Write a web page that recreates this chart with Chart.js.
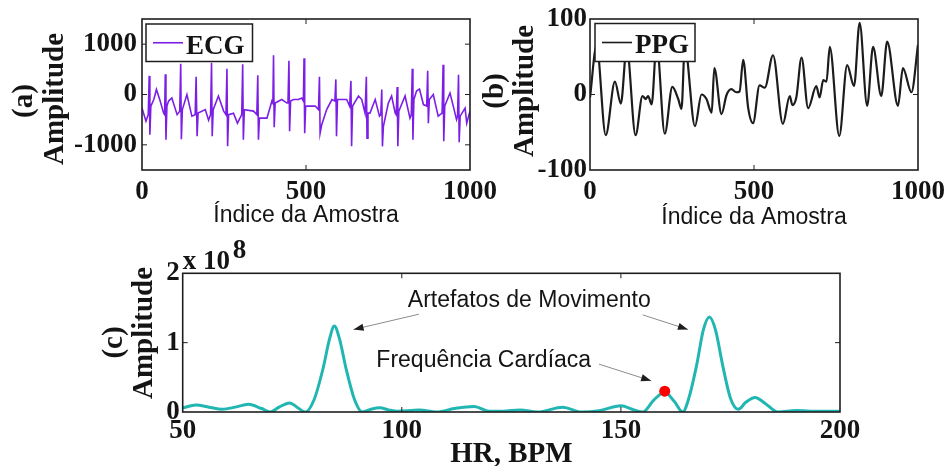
<!DOCTYPE html>
<html>
<head>
<meta charset="utf-8">
<script src="https://cdn.jsdelivr.net/npm/chart.js@4.4.1/dist/chart.umd.min.js"></script>
<style>
  html, body { margin: 0; padding: 0; background: #ffffff; }
  #wrap { position: relative; width: 949px; height: 466px; overflow: hidden; background: #ffffff; }
  #wrap canvas { position: absolute; left: 0; top: 0; }
</style>
</head>
<body>
<div id="wrap">
  <canvas id="ecgChart" width="949" height="466" style="width:949px;height:466px"></canvas>
  <canvas id="ppgChart" width="949" height="466" style="width:949px;height:466px"></canvas>
  <canvas id="specChart" width="949" height="466" style="width:949px;height:466px"></canvas>
</div>
<script>
// ---- (a) ECG: sample index and amplitude at each vertex of the trace ----
const ecgIndex = [0, 12, 19, 22, 24, 27, 36, 44, 54, 66, 69, 71, 73, 76, 81, 91, 107, 115, 118, 120,
  123, 137, 152, 162, 165, 168, 171, 193, 203, 209, 212, 214, 217, 233, 249, 256, 259, 261, 264, 279,
  291, 304, 307, 309, 312, 340, 350, 353, 355, 358, 381, 396, 399, 401, 403, 406, 426, 442, 445, 448,
  450, 453, 462, 477, 487, 492, 494, 496, 499, 528, 538, 541, 543, 548, 563, 579, 588, 591, 593, 596,
  624, 633, 637, 639, 642, 660, 670, 680, 684, 686, 689, 695, 711, 724, 728, 731, 733, 736, 751, 761,
  772, 775, 778, 780, 783, 802, 817, 821, 824, 826, 829, 837, 846, 858, 868, 871, 873, 876, 888, 903,
  915, 918, 920, 923, 939, 949, 959, 962, 965, 967, 970, 985, 990, 1000];
const ecgAmplitude = [-270, -530, -400, 370, -800, -230, -100, 100, -100, -370, -400, 400, -900, -230, -130, -70, -400, -330, 610, -890,
  -300, 0, -430, -400, 350, -830, -370, -300, -510, -400, 630, -830, -300, -30, -330, -400, 510, -1030, -400, -370,
  -570, -400, 600, -900, -300, -330, -400, 380, -900, -470, -470, -130, -170, 780, -650, -170, -100, -170, -170, 670,
  -730, -130, -100, -100, -70, -130, 720, -770, -230, -230, -300, 350, -770, -600, -300, -100, -130, 300, -830, -100,
  -100, -230, 270, -1030, -230, -30, -100, -370, 350, -870, -370, -370, -100, -430, -400, 100, -1030, -630, -170, -30,
  -370, -400, 150, -1030, -330, -30, -470, -400, 510, -900, -100, 70, 110, -200, -230, 470, -570, -100, 0, -430,
  -370, 590, -930, -230, 30, -230, -500, -430, 390, -950, -430, -270, -570, -330];

// ---- (b) PPG: sample index and amplitude at the turning points ----
const ppgIndex = [0, 20, 48, 76, 94, 112, 139, 160, 170, 177, 188, 203, 228, 251, 269, 279, 289, 320, 340, 355,
  371, 379, 401, 416, 431, 446, 456, 467, 482, 497, 517, 533, 558, 588, 609, 617, 629, 645, 665, 690,
  700, 711, 721, 731, 760, 784, 805, 822, 845, 863, 888, 906, 939, 954, 980, 1000];
const ppgAmplitude = [-4, 65, -54, 17, -12, 62, -54, -2, -6, -2, -13, 68, -52, 10, -6, -19, 64, -42, 0, -6,
  -24, 35, -26, -1, 7, 3, 4, 46, -17, -38, 12, 9, 52, -39, -2, -14, -4, 49, -18, 11,
  -4, 19, 17, 63, -55, 39, 11, 95, -15, 63, -2, 70, -15, 35, 3, 66];

// ---- (c) spectrum: heart rate (BPM) and amplitude in units of 1e8 ----
const hrBpm = [50, 53, 56, 59, 62, 65, 68, 70, 72, 74.4, 76.5, 78, 80, 82, 83.5, 84.6, 85.8, 87.3, 89.2, 91,
  93, 95, 97, 99, 102, 104, 108, 112, 116.5, 120, 123, 127, 131, 136.7, 141, 145, 150, 153, 155, 157.5,
  160, 162.2, 164.1, 165.5, 167.3, 168.8, 170.2, 171.6, 173.2, 175, 176.8, 178.5, 180.6, 183, 185.8, 190, 195, 200];
const spectrumE8 = [0.06, 0.10, 0.07, 0.04, 0.07, 0.11, 0.05, 0.0, 0.07, 0.13, 0.05, 0.0, 0.18, 0.62, 1.05, 1.24, 1.05, 0.62, 0.18, 0.0,
  0.04, 0.06, 0.03, 0.01, 0.02, 0.03, 0.0, 0.05, 0.08, 0.01, 0.01, 0.03, 0.0, 0.07, 0.0, 0.02, 0.09, 0.03, 0.0, 0.17,
  0.29, 0.15, 0.0, 0.2, 0.68, 1.18, 1.37, 1.18, 0.68, 0.2, 0.04, 0.14, 0.21, 0.12, 0.0, 0.02, 0.01, 0.01];
const heartRateBpm = [160];
const heartRateE8 = [0.30];

// ---- tick values ----
const sampleTicks = [0, 500, 1000];
const ecgTicks = [-1000, 0, 1000];
const ppgTicks = [-100, 0, 100];
const bpmTicks = [50, 100, 150, 200];
const ampTicks = [0, 1, 2];

const INK = '#141414';
const SERIF = '"Liberation Serif", "Times New Roman", serif';
const SANS = '"Liberation Sans", Arial, sans-serif';
const tickFont = { family: SERIF, weight: 'bold', size: 27, lineHeight: 1.2 };
const Y_AXIS_W = 100;

const pairs = (xs, ys) => xs.map((x, i) => ({ x, y: ys[i] }));

function axis(min, max, ticks, horizontal, size, pad) {
  return {
    type: 'linear', min, max, offset: false,
    grid: { display: false, drawTicks: false },
    border: { display: false },
    afterBuildTicks: s => { s.ticks = ticks.map(v => ({ value: v })); },
    afterFit: s => {
      if (horizontal) s.height = size; else s.width = size;
      s.paddingLeft = 0; s.paddingRight = 0; s.paddingTop = 0; s.paddingBottom = 0;
    },
    ticks: {
      autoSkip: false, maxRotation: 0, minRotation: 0, padding: pad,
      color: INK, font: tickFont, callback: v => String(v)
    }
  };
}

// box around the axes plus inward tick marks on all four sides
function drawFrame(chart, xTicks, yTicks) {
  const { ctx, chartArea: a, scales: { x, y } } = chart;
  ctx.save();
  ctx.strokeStyle = '#1e1e1e';
  ctx.lineWidth = 1;
  const L = 5;
  ctx.beginPath();
  xTicks.forEach(v => {
    const px = x.getPixelForValue(v);
    if (Math.abs(px - a.left) < 2 || Math.abs(px - a.right) < 2) return;
    ctx.moveTo(px, a.bottom); ctx.lineTo(px, a.bottom - L);
    ctx.moveTo(px, a.top); ctx.lineTo(px, a.top + L);
  });
  yTicks.forEach(v => {
    const py = y.getPixelForValue(v);
    if (Math.abs(py - a.top) < 2 || Math.abs(py - a.bottom) < 2) return;
    ctx.moveTo(a.left, py); ctx.lineTo(a.left + L, py);
    ctx.moveTo(a.right, py); ctx.lineTo(a.right - L, py);
  });
  ctx.stroke();
  ctx.lineWidth = 1.6;
  ctx.strokeRect(a.left, a.top, a.right - a.left, a.bottom - a.top);
  ctx.restore();
}

function drawLegend(chart, box, color, width, label) {
  const { ctx } = chart;
  ctx.save();
  ctx.fillStyle = '#ffffff';
  ctx.fillRect(box.x, box.y, box.w, box.h);
  ctx.strokeStyle = '#1e1e1e';
  ctx.lineWidth = 1.5;
  ctx.strokeRect(box.x, box.y, box.w, box.h);
  const my = box.y + box.h / 2;
  ctx.strokeStyle = color;
  ctx.lineWidth = width;
  ctx.beginPath();
  ctx.moveTo(box.x + 7, my); ctx.lineTo(box.x + 37, my);
  ctx.stroke();
  ctx.fillStyle = INK;
  ctx.font = 'bold 27px ' + SERIF;
  ctx.textAlign = 'left';
  ctx.textBaseline = 'alphabetic';
  ctx.fillText(label, box.x + 40, box.y + 29.5);
  ctx.restore();
}

function drawRotated(ctx, text, xBase, yCenter, font) {
  ctx.save();
  ctx.translate(xBase, yCenter);
  ctx.rotate(-Math.PI / 2);
  ctx.font = font;
  ctx.fillStyle = INK;
  ctx.textAlign = 'center';
  ctx.textBaseline = 'alphabetic';
  ctx.fillText(text, 0, 0);
  ctx.restore();
}

function drawText(ctx, text, x, y, font, align) {
  ctx.save();
  ctx.font = font;
  ctx.fillStyle = INK;
  ctx.textAlign = align || 'center';
  ctx.textBaseline = 'alphabetic';
  ctx.fillText(text, x, y);
  ctx.restore();
}

const TITLE_FONT = 'bold 29px ' + SERIF;
const LABEL_FONT = '23px ' + SANS;

const baseOptions = (padding, xAxis, yAxis) => ({
  responsive: false,
  animation: false,
  events: [],
  layout: { padding },
  plugins: { legend: { display: false }, tooltip: { enabled: false } },
  scales: { x: xAxis, y: yAxis }
});

// ---------------- (a) ECG ----------------
new Chart(document.getElementById('ecgChart'), {
  type: 'line',
  data: {
    datasets: [{
      label: 'ECG',
      data: pairs(ecgIndex, ecgAmplitude),
      borderColor: '#7b1fe6',
      borderWidth: 1.6,
      pointRadius: 0,
      tension: 0,
      fill: false
    }]
  },
  options: baseOptions(
    { left: 142 - Y_AXIS_W, top: 19, right: 479, bottom: 256 },
    axis(0, 1000, sampleTicks, true, 40, 6),
    axis(-1500, 1500, ecgTicks, false, Y_AXIS_W, 5)
  ),
  plugins: [{
    id: 'ecgDecor',
    afterDatasetsDraw(chart) {
      const a = chart.chartArea;
      drawFrame(chart, sampleTicks, ecgTicks);
      drawLegend(chart, { x: a.left + 4, y: a.top + 5, w: 106.5, h: 37.5 }, '#7b1fe6', 1.6, 'ECG');
      const ctx = chart.ctx;
      drawRotated(ctx, '(a)', 31.5, 101, TITLE_FONT);
      drawRotated(ctx, 'Amplitude', 62.5, 99, TITLE_FONT);
      drawText(ctx, 'Índice da Amostra', (a.left + a.right) / 2, 221.5, LABEL_FONT);
    }
  }]
});

// ---------------- (b) PPG ----------------
new Chart(document.getElementById('ppgChart'), {
  type: 'line',
  data: {
    datasets: [{
      label: 'PPG',
      data: pairs(ppgIndex, ppgAmplitude),
      borderColor: '#1c1c1c',
      borderWidth: 2.2,
      pointRadius: 0,
      cubicInterpolationMode: 'monotone',
      fill: false
    }]
  },
  options: baseOptions(
    { left: 590 - Y_AXIS_W, top: 19, right: 31, bottom: 256 },
    axis(0, 1000, sampleTicks, true, 40, 6),
    axis(-100, 100, ppgTicks, false, Y_AXIS_W, 3)
  ),
  plugins: [{
    id: 'ppgDecor',
    afterDatasetsDraw(chart) {
      const a = chart.chartArea;
      drawFrame(chart, sampleTicks, ppgTicks);
      drawLegend(chart, { x: a.left + 5, y: a.top + 4.5, w: 100, h: 38 }, '#1c1c1c', 1.6, 'PPG');
      const ctx = chart.ctx;
      drawRotated(ctx, '(b)', 503, 91, TITLE_FONT);
      drawRotated(ctx, 'Amplitude', 533, 91, TITLE_FONT);
      drawText(ctx, 'Índice da Amostra', (a.left + a.right) / 2, 224, LABEL_FONT);
    }
  }]
});

// ---------------- (c) spectrum ----------------
const notes = [
  { text: 'Artefatos de Movimento', bpm: 129.1, amp: 1.52 },
  { text: 'Frequência Cardíaca', bpm: 118.7, amp: 0.645 }
];
const arrows = [
  { from: [103.9, 1.41], to: [89.0, 1.19] },
  { from: [155.0, 1.40], to: [165.3, 1.19] },
  { from: [145.0, 0.69], to: [156.9, 0.45] }
];

function drawArrow(ctx, x1, y1, x2, y2) {
  ctx.save();
  ctx.strokeStyle = '#8c8c8c';
  ctx.lineWidth = 1;
  ctx.beginPath();
  ctx.moveTo(x1, y1); ctx.lineTo(x2, y2);
  ctx.stroke();
  const ang = Math.atan2(y2 - y1, x2 - x1);
  const len = 10, half = 3.6;
  const bx = x2 - len * Math.cos(ang), by = y2 - len * Math.sin(ang);
  ctx.fillStyle = '#1e1e1e';
  ctx.beginPath();
  ctx.moveTo(x2, y2);
  ctx.lineTo(bx + half * Math.sin(ang), by - half * Math.cos(ang));
  ctx.lineTo(bx - half * Math.sin(ang), by + half * Math.cos(ang));
  ctx.closePath();
  ctx.fill();
  ctx.restore();
}

new Chart(document.getElementById('specChart'), {
  type: 'line',
  data: {
    datasets: [{
      label: 'Frequência Cardíaca',
      data: pairs(heartRateBpm, heartRateE8),
      showLine: false,
      pointRadius: 5.5,
      pointBackgroundColor: '#ff0000',
      pointBorderWidth: 0,
      order: -1
    }, {
      label: 'Espectro',
      data: pairs(hrBpm, spectrumE8),
      borderColor: '#22b6b2',
      borderWidth: 3,
      pointRadius: 0,
      cubicInterpolationMode: 'monotone',
      fill: false,
      order: 0
    }]
  },
  options: baseOptions(
    { left: 182.7 - Y_AXIS_W, top: 273.3, right: 109, bottom: 14 },
    axis(50, 200, bpmTicks, true, 40, 3.3),
    axis(0, 2, ampTicks, false, Y_AXIS_W, 3)
  ),
  plugins: [{
    id: 'specDecor',
    afterDatasetsDraw(chart) {
      const { ctx, chartArea: a, scales: { x, y } } = chart;
      drawFrame(chart, bpmTicks, ampTicks);
      arrows.forEach(ar => drawArrow(ctx,
        x.getPixelForValue(ar.from[0]), y.getPixelForValue(ar.from[1]),
        x.getPixelForValue(ar.to[0]), y.getPixelForValue(ar.to[1])));
      notes.forEach(n => drawText(ctx, n.text, x.getPixelForValue(n.bpm), y.getPixelForValue(n.amp), LABEL_FONT));
      // axis exponent
      drawText(ctx, 'x 10', a.left, 269.3, 'bold 27px ' + SERIF, 'left');
      drawText(ctx, '8', a.left + 50, 258, 'bold 27px ' + SERIF, 'left');
      drawRotated(ctx, '(c)', 121.7, 342.5, TITLE_FONT);
      drawRotated(ctx, 'Amplitude', 151.5, 333, TITLE_FONT);
      drawText(ctx, 'HR, BPM', (a.left + a.right) / 2, 461.7, TITLE_FONT);
    }
  }]
});
</script>
</body>
</html>
